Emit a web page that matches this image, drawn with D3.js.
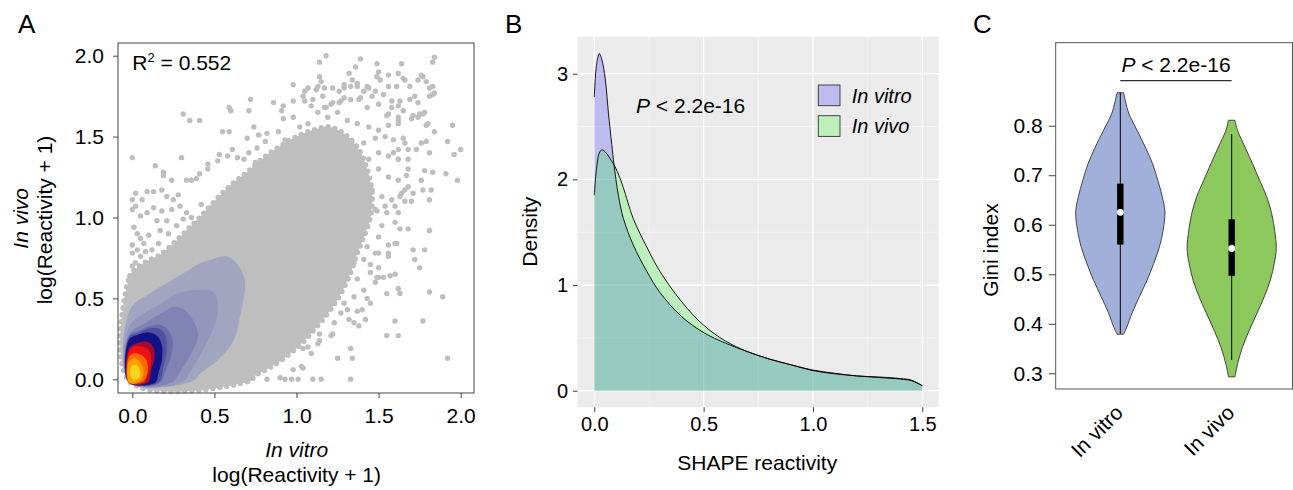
<!DOCTYPE html>
<html>
<head>
<meta charset="utf-8">
<script src="https://cdn.jsdelivr.net/npm/d3@7"></script>
<style>
  body { margin: 0; background: #fff; }
  text { font-family: "Liberation Sans", Arial, sans-serif; fill: #000; }
</style>
</head>
<body>
<script>
// ---------- panel A : scatter of log reactivities ----------
const ticksA = [0, 0.5, 1, 1.5, 2];
// outline of the dense grey cloud (x, y)
const grayCloud = [[-0.015,-0.015],[-0.015,0.64],[0.03,0.69],[0.09,0.73],[0.17,0.77],[0.25,0.84],[0.33,0.92],
  [0.41,1.0],[0.5,1.1],[0.6,1.2],[0.7,1.28],[0.8,1.37],[0.9,1.44],[1.0,1.5],[1.1,1.54],[1.2,1.56],[1.3,1.51],
  [1.38,1.42],[1.43,1.3],[1.46,1.15],[1.45,1.0],[1.41,0.88],[1.37,0.78],[1.33,0.66],[1.27,0.53],[1.2,0.42],
  [1.12,0.32],[1.04,0.23],[0.95,0.15],[0.85,0.08],[0.76,0.03],[0.7,-0.015]];
// sparse points outside the cloud
const outliers = [[1.18,2.00],[1.14,1.96],[1.39,1.98],[1.49,1.95],[1.64,1.95],[1.62,1.89],[1.84,1.99],[1.83,1.96],
  [1.77,1.87],[1.79,1.84],[1.74,1.85],[1.50,1.90],[1.49,1.87],[1.51,1.85],[1.44,1.80],[1.37,1.81],[1.34,1.85],
  [1.32,1.89],[1.29,1.80],[1.14,1.87],[1.15,1.84],[1.07,1.80],[0.98,1.82],[1.05,1.78],[1.04,1.75],[1.10,1.73],
  [1.12,1.79],[1.22,1.80],[1.16,1.75],[1.22,1.71],[1.26,1.71],[1.18,1.68],[1.29,1.74],[1.38,1.73],[1.41,1.78],
  [1.46,1.75],[1.53,1.76],[1.56,1.81],[1.61,1.81],[1.66,1.85],[1.69,1.73],[1.72,1.75],[1.75,1.64],[1.83,1.76],
  [1.81,1.80],[1.69,1.81],[1.63,1.72],[1.58,1.68],[1.55,1.63],[1.65,1.66],[1.62,1.60],[1.71,1.63],[1.77,1.64],
  [1.79,1.57],[1.84,1.53],[1.95,1.57],[1.92,1.47],[1.96,1.39],[2.00,1.42],[1.91,1.27],[1.98,1.23],[1.81,1.40],
  [1.78,1.29],[1.83,1.28],[1.76,1.23],[1.73,1.42],[1.68,1.36],[1.65,1.49],[1.59,1.48],[1.59,1.40],[1.67,1.26],
  [1.66,1.17],[1.71,1.15],[1.63,1.13],[1.77,1.17],[1.81,1.11],[1.70,1.10],[1.66,1.10],[1.68,0.93],[1.63,0.93],
  [1.60,0.84],[1.56,0.78],[1.71,0.80],[1.78,0.80],[1.72,0.74],[1.75,0.69],[1.81,0.92],[1.89,0.51],[1.81,0.54],
  [1.77,0.36],[1.60,0.36],[1.55,0.27],[1.62,0.27],[1.92,0.13],[1.63,0.53],[1.55,0.53],[1.50,0.63],[1.45,0.71],
  [1.43,0.50],[1.40,0.43],[1.38,0.33],[1.33,0.19],[1.34,0.13],[1.33,0.00],[1.15,0.00],[1.10,0.00],[1.01,0.00],
  [0.97,0.00],[0.93,0.00],[0.90,0.01],[0.98,0.06],[1.04,0.07],[0.82,0.00],[0.80,0.08],[0.71,0.00],[1.07,0.20],
  [1.22,0.28],[1.14,0.24],[1.31,0.43],[1.35,0.35],
  [0.31,1.64],[0.35,1.60],[0.41,1.60],[0.59,1.68],[0.60,1.66],[0.72,1.73],[0.55,1.53],[0.59,1.53],[0.70,1.49],
  [0.00,1.37],[0.30,1.37],[0.14,1.32],[0.19,1.28],[0.19,1.26],[0.24,1.23],[0.02,1.15],[0.09,1.16],[0.13,1.16],
  [0.06,1.11],[0.18,1.17],[0.21,1.13],[0.25,1.11],[0.33,1.23],[0.36,1.23],[0.41,1.27],[0.46,1.33],[0.53,1.39],
  [0.58,1.38],[0.64,1.37],[0.71,1.40],[0.76,1.43],[0.82,1.52],[0.86,1.71],[0.91,1.66],[0.92,1.61],[0.98,1.62],
  [1.02,1.56],[0.00,1.05],[0.02,1.07],[0.05,1.01],[0.09,1.03],[0.13,1.06],[0.15,0.98],[0.01,0.94],[0.03,0.90],
  [0.05,0.87],[0.00,0.83],[0.00,0.78],[0.07,0.84],[0.10,0.89],[0.21,0.98],[0.17,0.92],[0.33,1.03],[0.29,1.07],
  [1.36,1.93],[1.56,1.88],[1.65,1.86],[1.76,1.88],[1.83,1.81],[1.84,1.77],[1.81,1.75],[1.13,1.81],[1.17,1.80],
  [1.26,1.78],[1.29,1.82],[1.33,1.81],[1.37,1.83],[1.43,1.81],[1.48,1.78],[1.58,1.72],[1.62,1.69],[1.74,1.71],
  [1.78,1.65],[1.80,1.58],[1.74,1.62],[1.70,1.61],[1.62,1.62],[1.56,1.64],[1.50,1.70],[1.43,1.68],[1.39,1.74],
  [1.33,1.73],[1.27,1.72],[1.21,1.70],[1.17,1.68],[1.09,1.69],[1.05,1.72],[1.07,1.58],[1.13,1.65],[1.19,1.62],
  [1.25,1.65],[1.31,1.60],[1.37,1.58],[1.44,1.56],[1.50,1.54],[1.56,1.57],[1.62,1.58],[1.66,1.46],[1.54,1.50],
  [1.48,1.49],[1.41,1.46],[1.62,1.42],[1.68,1.42],[1.76,1.46],[1.79,1.47],[1.68,1.30],[1.62,1.36],[1.56,1.38],
  [1.50,1.40],[1.44,1.36],[1.50,1.30],[1.56,1.25],[1.62,1.23],[1.68,1.19],[1.82,1.17],[1.64,1.15],[1.58,1.11],
  [1.52,1.13],[1.46,1.17],[1.42,1.21],[1.48,1.05],[1.54,1.07],[1.60,1.07],[1.62,1.03],[1.55,1.03],[1.49,1.04],
  [1.60,0.97],[1.61,0.84],[1.56,0.83],[1.50,0.78],[1.56,0.76],[1.50,0.69],[1.60,0.65],[1.57,0.64],[1.53,0.63],
  [1.49,0.63],[1.45,0.66],[1.62,0.56],[1.45,0.47],[1.37,0.42],[1.42,0.37],[1.25,0.13],[1.13,0.22],[1.21,0.27],
  [1.14,0.28],[1.04,0.19],[1.03,0.08],[1.09,0.16],[1.32,0.37],[1.27,0.41],[1.21,0.47],[1.15,0.45],[1.09,0.39],
  [1.05,0.35],[1.23,0.35],[1.29,0.47],[1.35,0.51],[1.41,0.55],[1.48,0.60],[1.37,0.62],[1.31,0.62],[1.25,0.60],
  [1.35,0.72],[1.41,0.74],[1.48,0.78],[1.43,0.82],[1.50,0.88],[1.52,0.95],[1.41,0.90],[1.37,0.86],[1.33,0.82],
  [1.29,0.78],[0.98,1.72],[0.92,1.69],[0.71,1.66],[0.74,1.56],[0.77,1.51],[0.81,1.47],[0.89,1.53],[0.93,1.48],
  [0.97,1.46],[0.61,1.42],[0.46,1.30],[0.52,1.35],[0.68,1.36],[0.75,1.34],[0.39,1.24],[0.28,1.14],[0.00,1.11],
  [0.18,1.04],[0.24,1.05],[0.02,0.72],[0.05,0.76],[0.00,0.70],[0.12,0.80],[0.08,0.79],[0.03,0.80],[0.16,0.84],
  [0.22,0.90],[0.27,0.95],[0.36,1.00],[0.42,1.08],[0.31,0.99]];
// nested point-density contours, outermost first
const bandA = [[-0.015,0.43],[0.108,0.531],[0.209,0.593],[0.311,0.655],[0.412,0.717],[0.473,0.737],[0.572,0.762],
  [0.636,0.717],[0.684,0.616],[0.68,0.51],[0.66,0.41],[0.62,0.245],[0.522,0.121],[0.42,0.04],[0.36,-0.015],[-0.015,-0.015]];
const bandB = [[-0.02,0.325],[0.075,0.408],[0.177,0.47],[0.278,0.531],[0.38,0.552],[0.5,0.533],[0.52,0.41],
  [0.481,0.284],[0.42,0.161],[0.359,0.058],[0.3,-0.02],[-0.02,-0.02]];
const bandC = [[-0.02,0.274],[0.075,0.346],[0.177,0.408],[0.258,0.449],[0.319,0.428],[0.38,0.346],[0.4,0.264],
  [0.359,0.161],[0.298,0.058],[0.238,-0.02],[-0.02,-0.02]];
const bandD = [[-0.02,0.27],[0.04,0.3],[0.11,0.33],[0.17,0.335],[0.22,0.3],[0.245,0.24],[0.235,0.14],[0.2,0.05],
  [0.17,-0.02],[-0.02,-0.02]];
const bandE = [[-0.02,0.26],[0.04,0.29],[0.11,0.315],[0.17,0.31],[0.205,0.26],[0.21,0.17],[0.19,0.08],[0.16,-0.02],[-0.02,-0.02]];
const bandF = [[-0.02,0.245],[0.035,0.275],[0.1,0.29],[0.15,0.27],[0.18,0.21],[0.18,0.12],[0.16,0.04],[0.14,-0.02],[-0.02,-0.02]];
const bandG = [[-0.02,0.192],[0.024,0.222],[0.085,0.233],[0.126,0.202],[0.136,0.14],[0.116,0.058],[0.095,-0.02],[-0.02,-0.02]];
const bandH = [[-0.02,0.171],[0.014,0.202],[0.065,0.202],[0.106,0.171],[0.116,0.109],[0.095,0.027],[0.075,-0.02],[-0.02,-0.02]];
const bandI = [[-0.02,0.14],[0.014,0.161],[0.055,0.15],[0.085,0.119],[0.095,0.058],[0.075,-0.004],[0.055,-0.02],[-0.02,-0.02]];
const bandJ = [[-0.02,0.109],[0.014,0.13],[0.045,0.109],[0.065,0.068],[0.065,0.016],[0.035,-0.02],[-0.02,-0.02]];
const bandK = [[-0.006,0.078],[0.024,0.089],[0.045,0.058],[0.045,0.016],[0.014,-0.004],[-0.01,0.016]];

// ---------- panel B : density of SHAPE reactivity ----------
const shapeX = [0, 0.01, 0.023, 0.035, 0.05, 0.065, 0.08, 0.09, 0.11, 0.133, 0.178, 0.24, 0.3, 0.4, 0.5, 0.6,
  0.7, 0.8, 0.9, 1.0, 1.1, 1.2, 1.3, 1.4, 1.45, 1.5];
const vitroDens = [2.78, 3.08, 3.19, 3.13, 2.95, 2.62, 2.33, 2.14, 1.85, 1.63, 1.38, 1.13, 0.93, 0.7, 0.55, 0.45,
  0.37, 0.3, 0.245, 0.195, 0.165, 0.14, 0.13, 0.115, 0.1, 0.047];
const vivoDens = [1.85, 2.1, 2.25, 2.28, 2.26, 2.22, 2.17, 2.14, 2.05, 1.92, 1.63, 1.36, 1.13, 0.84, 0.62, 0.47,
  0.37, 0.3, 0.245, 0.19, 0.16, 0.14, 0.125, 0.11, 0.095, 0.047];
const ticksBx = [0, 0.5, 1, 1.5];
const ticksBy = [0, 1, 2, 3];
const seriesB = ["In vitro", "In vivo"];

// ---------- panel C : Gini index violins ----------
const giniTicks = [0.3, 0.4, 0.5, 0.6, 0.7, 0.8];
const groupsC = ["In vitro", "In vivo"];
const vitroLevels = [0.379, 0.394, 0.421, 0.455, 0.488, 0.522, 0.556, 0.589, 0.626, 0.657, 0.69, 0.724, 0.757, 0.791, 0.825, 0.8665];
const vitroWidth = [0.074, 0.15, 0.26, 0.43, 0.6, 0.75, 0.88, 0.96, 1.0, 0.94, 0.84, 0.72, 0.56, 0.375, 0.19, 0.074];
const vivoLevels = [0.293, 0.32, 0.354, 0.387, 0.421, 0.455, 0.488, 0.522, 0.552, 0.589, 0.623, 0.657, 0.69, 0.724, 0.757, 0.791, 0.811];
const vivoWidth = [0.074, 0.134, 0.246, 0.396, 0.566, 0.732, 0.866, 0.955, 1.0, 0.962, 0.895, 0.783, 0.626, 0.463, 0.298, 0.128, 0.074];
// whisker low, q1, median, q3, whisker high
const vitroBox = [0.38, 0.56, 0.625, 0.683, 0.8665];
const vivoBox = [0.327, 0.497, 0.552, 0.611, 0.783];

const W = 1293, H = 490;
const svg = d3.select("body").append("svg").attr("width", W).attr("height", H);

function panelLetter(x, t) {
  svg.append("text").attr("x", x).attr("y", 33).attr("font-size", 26).text(t);
}

// ================= A =================
const xA = d3.scaleLinear().domain([0, 2]).range([132.3, 460.7]);
const yA = d3.scaleLinear().domain([0, 2]).range([379.3, 55.7]);
const blob = d3.line().curve(d3.curveCatmullRomClosed.alpha(0.5)).x(d => xA(d[0])).y(d => yA(d[1]));

const gA = svg.append("g");
// cloud body plus a dotted rim so the edge looks made of points
gA.append("path").attr("d", blob(grayCloud)).attr("fill", "#bebebe")
  .attr("stroke", "#bebebe").attr("stroke-width", 5.4).attr("stroke-linecap", "round")
  .attr("stroke-dasharray", "0,7");
gA.selectAll("circle").data(outliers).enter().append("circle")
  .attr("cx", d => xA(d[0])).attr("cy", d => yA(d[1])).attr("r", 2.7).attr("fill", "#bebebe");

const bands = [bandA, bandB, bandC, bandD, bandE, bandF, bandG, bandH, bandI, bandJ, bandK];
const bandColors = ["#a2a5c0", "#9496bb", "#8083b4", "#6a6daa", "#4e51a0", "#121286", "#a30c2c", "#ee1212", "#ff6a00", "#ffa200", "#ffd41c"];
gA.selectAll("path.band").data(bands).enter().append("path")
  .attr("class", "band").attr("d", d => blob(d)).attr("fill", (d, i) => bandColors[i]);

gA.append("rect").attr("x", 118).attr("y", 43).attr("width", 356).attr("height", 350)
  .attr("fill", "none").attr("stroke", "#444").attr("stroke-width", 1);

const axA_x = gA.append("g").attr("transform", "translate(0,393)")
  .call(d3.axisBottom(xA).tickValues(ticksA).tickFormat(d3.format(".1f")).tickSize(5).tickPadding(10));
const axA_y = gA.append("g").attr("transform", "translate(118,0)")
  .call(d3.axisLeft(yA).tickValues(ticksA).tickFormat(d3.format(".1f")).tickSize(5).tickPadding(9));
[axA_x, axA_y].forEach(a => {
  a.select(".domain").remove();
  a.selectAll("line").attr("stroke", "#444");
  a.selectAll("text").attr("font-size", 21).attr("font-family", "Liberation Sans, Arial, sans-serif").attr("fill", "#000");
});

const r2 = gA.append("text").attr("x", 132.3).attr("y", 70).attr("font-size", 21);
r2.append("tspan").text("R");
r2.append("tspan").attr("font-size", 13).attr("dy", -8).text("2");
r2.append("tspan").attr("dy", 8).text(" = 0.552");

gA.append("text").attr("x", 296.7).attr("y", 457).attr("text-anchor", "middle")
  .attr("font-size", 21).attr("font-style", "italic").text("In vitro");
gA.append("text").attr("x", 296.7).attr("y", 481.5).attr("text-anchor", "middle")
  .attr("font-size", 21).text("log(Reactivity + 1)");
gA.append("text").attr("transform", "translate(28.3,218.3) rotate(-90)").attr("text-anchor", "middle")
  .attr("font-size", 21).attr("font-style", "italic").text("In vivo");
gA.append("text").attr("transform", "translate(52.3,220) rotate(-90)").attr("text-anchor", "middle")
  .attr("font-size", 21).text("log(Reactivity + 1)");
panelLetter(18, "A");

// ================= B =================
const xB = d3.scaleLinear().domain([0, 1.5]).range([594.3, 922.3]);
const yB = d3.scaleLinear().domain([0, 3]).range([390.7, 73.7]);
const gB = svg.append("g");
const pb = { x0: 577.5, x1: 938.5, y0: 36.7, y1: 407.3 };
gB.append("rect").attr("x", pb.x0).attr("y", pb.y0).attr("width", pb.x1 - pb.x0).attr("height", pb.y1 - pb.y0)
  .attr("fill", "#ebebeb");
const minorX = [0.25, 0.75, 1.25], minorY = [0.5, 1.5, 2.5];
gB.selectAll("line.mx").data(minorX).enter().append("line")
  .attr("x1", d => xB(d)).attr("x2", d => xB(d)).attr("y1", pb.y0).attr("y2", pb.y1)
  .attr("stroke", "#fafafa").attr("stroke-width", 0.6);
gB.selectAll("line.my").data(minorY).enter().append("line")
  .attr("y1", d => yB(d)).attr("y2", d => yB(d)).attr("x1", pb.x0).attr("x2", pb.x1)
  .attr("stroke", "#fafafa").attr("stroke-width", 0.6);
gB.selectAll("line.gx").data(ticksBx).enter().append("line")
  .attr("x1", d => xB(d)).attr("x2", d => xB(d)).attr("y1", pb.y0).attr("y2", pb.y1)
  .attr("stroke", "#fff").attr("stroke-width", 1.2);
gB.selectAll("line.gy").data(ticksBy).enter().append("line")
  .attr("y1", d => yB(d)).attr("y2", d => yB(d)).attr("x1", pb.x0).attr("x2", pb.x1)
  .attr("stroke", "#fff").attr("stroke-width", 1.2);

const areaB = d3.area().curve(d3.curveCatmullRom.alpha(0.5)).x((d, i) => xB(shapeX[i])).y0(yB(0)).y1(d => yB(d));
const lineB = d3.line().curve(d3.curveCatmullRom.alpha(0.5)).x((d, i) => xB(shapeX[i])).y(d => yB(d));
const seriesFill = ["#0000ff", "#00ff00"];
[vitroDens, vivoDens].forEach((s, i) => {
  gB.append("path").attr("d", areaB(s)).attr("fill", seriesFill[i]).attr("fill-opacity", 0.2);
});
[vitroDens, vivoDens].forEach(s => {
  gB.append("path").attr("d", lineB(s)).attr("fill", "none").attr("stroke", "#000").attr("stroke-width", 0.9);
});

const axB_x = gB.append("g").attr("transform", `translate(0,${pb.y1})`)
  .call(d3.axisBottom(xB).tickValues(ticksBx).tickFormat(d3.format(".1f")).tickSize(4.5).tickPadding(5));
const axB_y = gB.append("g").attr("transform", `translate(${pb.x0},0)`)
  .call(d3.axisLeft(yB).tickValues(ticksBy).tickFormat(d3.format("d")).tickSize(4.5).tickPadding(5));
[axB_x, axB_y].forEach(a => {
  a.select(".domain").remove();
  a.selectAll("line").attr("stroke", "#333");
  a.selectAll("text").attr("font-size", 20).attr("font-family", "Liberation Sans, Arial, sans-serif").attr("fill", "#1a1a1a");
});

const pB = gB.append("text").attr("x", 636).attr("y", 113.3).attr("font-size", 21);
pB.append("tspan").attr("font-style", "italic").text("P");
pB.append("tspan").text(" < 2.2e-16");

const keyY = [85, 115.7];
seriesB.forEach((s, i) => {
  gB.append("rect").attr("x", 818.3).attr("y", keyY[i]).attr("width", 21.7).attr("height", 20.7)
    .attr("fill", "#ebebeb");
  gB.append("rect").attr("x", 818.3).attr("y", keyY[i]).attr("width", 21.7).attr("height", 20.7)
    .attr("fill", seriesFill[i]).attr("fill-opacity", 0.2).attr("stroke", "#333").attr("stroke-width", 0.9);
  gB.append("text").attr("x", 851.7).attr("y", keyY[i] + 17.5).attr("font-size", 20)
    .attr("font-style", "italic").text(s);
});

gB.append("text").attr("transform", "translate(537.3,231.7) rotate(-90)").attr("text-anchor", "middle")
  .attr("font-size", 21).text("Density");
gB.append("text").attr("x", 757.2).attr("y", 470).attr("text-anchor", "middle")
  .attr("font-size", 21).text("SHAPE reactivity");
panelLetter(505, "B");

// ================= C =================
const yC = d3.scaleLinear().domain([0.3, 0.8]).range([373.3, 125.7]);
const xC = d3.scalePoint().domain(groupsC).range([1120.3, 1231.7]);
const wC = d3.scaleLinear().domain([0, 1]).range([0, 44.6]);
const gC = svg.append("g");
gC.append("rect").attr("x", 1055.7).attr("y", 42.7).attr("width", 1292.5 - 1055.7).attr("height", 389 - 42.7)
  .attr("fill", "none").attr("stroke", "#555").attr("stroke-width", 1);

const violins = [
  { g: groupsC[0], lv: vitroLevels, w: vitroWidth, box: vitroBox, fill: "#a1b0db" },
  { g: groupsC[1], lv: vivoLevels, w: vivoWidth, box: vivoBox, fill: "#8cc85c" }
];
violins.forEach(v => {
  const cx = xC(v.g);
  const area = d3.area().curve(d3.curveCatmullRom.alpha(0.5))
    .y((d, i) => yC(v.lv[i])).x0(d => cx - wC(d)).x1(d => cx + wC(d));
  gC.append("path").attr("d", area(v.w) + "Z").attr("fill", v.fill).attr("stroke", "#333").attr("stroke-width", 0.9);
  gC.append("line").attr("x1", cx).attr("x2", cx).attr("y1", yC(v.box[0])).attr("y2", yC(v.box[4]))
    .attr("stroke", "#000").attr("stroke-width", 1);
  gC.append("rect").attr("x", cx - 3.2).attr("width", 6.4).attr("y", yC(v.box[3]))
    .attr("height", yC(v.box[1]) - yC(v.box[3])).attr("fill", "#000");
  gC.append("circle").attr("cx", cx).attr("cy", yC(v.box[2])).attr("r", 3.4).attr("fill", "#fff");
});

const axC_y = gC.append("g").attr("transform", "translate(1055.7,0)")
  .call(d3.axisLeft(yC).tickValues(giniTicks).tickFormat(d3.format(".1f")).tickSize(7).tickPadding(6));
axC_y.select(".domain").remove();
axC_y.selectAll("line").attr("stroke", "#444");
axC_y.selectAll("text").attr("font-size", 21).attr("font-family", "Liberation Sans, Arial, sans-serif").attr("fill", "#000");

gC.selectAll("text.xl").data(groupsC).enter().append("text").attr("class", "xl")
  .attr("transform", d => `translate(${xC(d) + 4},414) rotate(-45)`).attr("text-anchor", "end")
  .attr("font-size", 21).text(d => d);

const pC = gC.append("text").attr("x", (xC(groupsC[0]) + xC(groupsC[1])) / 2).attr("y", 71.7)
  .attr("text-anchor", "middle").attr("font-size", 21);
pC.append("tspan").attr("font-style", "italic").text("P");
pC.append("tspan").text(" < 2.2e-16");
gC.append("line").attr("x1", xC(groupsC[0])).attr("x2", xC(groupsC[1])).attr("y1", 80.7).attr("y2", 80.7)
  .attr("stroke", "#000").attr("stroke-width", 1);

gC.append("text").attr("transform", "translate(998,250) rotate(-90)").attr("text-anchor", "middle")
  .attr("font-size", 21).text("Gini index");
panelLetter(973, "C");
</script>
</body>
</html>
